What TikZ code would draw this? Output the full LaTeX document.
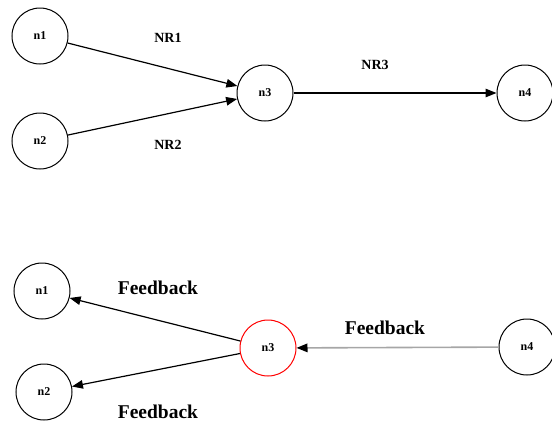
\documentclass[tikz,border=0pt]{standalone}
\usepackage{fontspec}
\setmainfont{Liberation Serif}
\usetikzlibrary{arrows.meta}
\tikzset{
  peer/.style={draw, circle, minimum size=56pt, inner sep=0pt, line width=1pt,
    font=\fontsize{12}{12}\selectfont\bfseries},
  link/.style={-{Triangle[length=11pt,width=8.5pt]}, line width=1.2pt},
  small/.style={font=\fontsize{14}{14}\selectfont\bfseries},
  big/.style={font=\fontsize{19.5}{20}\selectfont\bfseries}
}
\begin{document}
\begin{tikzpicture}[x=1pt,y=-1pt]
      \useasboundingbox (0,0) rectangle (552,424);

      % REQUESTS
      \node[peer] (n1) at (40,36)  {n1};
      \node[peer] (n2) at (40,141) {n2};
      \node[peer] (n3) at (265,93) {n3};
      \node[peer] (n4) at (525,93) {n4};

      \draw[link] (n1) -- (n3);
      \draw[link] (n2) -- (n3);
      \draw[link] (n3) -- (n4);

      \node[small] (nr1) at (168,38)  {NR1};
      \node[small] (nr2) at (168,145) {NR2};
      \node[small] (nr3) at (375,65)  {NR3};

      % FEEDBACK
      \node[peer] (m1) at (42,291)  {n1};
      \node[peer] (m2) at (44,392)  {n2};
      \node[peer, draw=red] (m3) at (268,348) {n3};
      \node[peer] (m4) at (527,347) {n4};

      \draw[link] (m3) -- (m1);
      \draw[link] (m3) -- (m2);
      \draw[link, line width=1.6pt, draw=black!35, -{Triangle[length=11pt,width=8.5pt,color=black]}] (m4) -- (m3);

      \node[big] (f1) at (158,288) {Feedback};
      \node[big] (f2) at (158,412) {Feedback};
      \node[big] (f3) at (385,328) {Feedback};

    \end{tikzpicture}
\end{document}
